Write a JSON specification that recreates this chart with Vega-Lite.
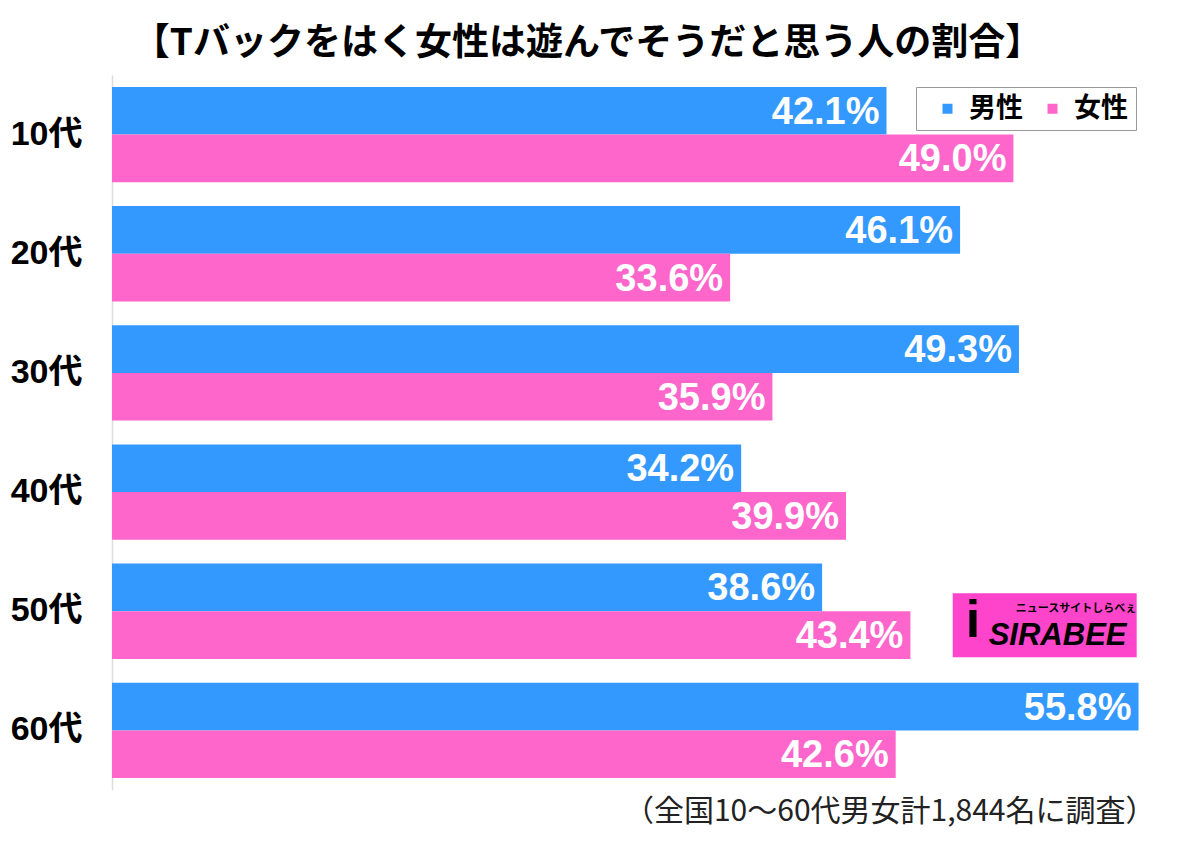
{
  "$schema": "https://vega.github.io/schema/vega-lite/v6.json",
  "width": 1067,
  "height": 715,
  "autosize": "none",
  "padding": {"left": 112, "top": 75, "right": 21, "bottom": 55},
  "background": "white",
  "title": {
    "text": "【Tバックをはく女性は遊んでそうだと思う人の割合】",
    "font": "Noto Sans CJK JP",
    "fontWeight": "bold",
    "fontSize": 37,
    "color": "black",
    "anchor": "middle",
    "dx": -58,
    "offset": 12
  },
  "config": {"view": {"stroke": null}},
  "data": {
    "values": [
      {"age": "10代", "sex": "男性", "value": 42.1},
      {"age": "10代", "sex": "女性", "value": 49.0},
      {"age": "20代", "sex": "男性", "value": 46.1},
      {"age": "20代", "sex": "女性", "value": 33.6},
      {"age": "30代", "sex": "男性", "value": 49.3},
      {"age": "30代", "sex": "女性", "value": 35.9},
      {"age": "40代", "sex": "男性", "value": 34.2},
      {"age": "40代", "sex": "女性", "value": 39.9},
      {"age": "50代", "sex": "男性", "value": 38.6},
      {"age": "50代", "sex": "女性", "value": 43.4},
      {"age": "60代", "sex": "男性", "value": 55.8},
      {"age": "60代", "sex": "女性", "value": 42.6}
    ]
  },
  "layer": [
    {
      "mark": {"type": "bar"},
      "encoding": {
        "y": {
          "field": "age",
          "type": "nominal",
          "sort": ["10代", "20代", "30代", "40代", "50代", "60代"],
          "scale": {"paddingInner": 0.2, "paddingOuter": 0.1},
          "axis": {
            "title": null,
            "ticks": false,
            "domainColor": "#dddddd",
            "domainWidth": 1.5,
            "labelFont": "Liberation Sans, Noto Sans CJK JP",
            "labelFontWeight": "bold",
            "labelFontSize": 34,
            "labelColor": "black",
            "labelPadding": 30
          }
        },
        "yOffset": {"field": "sex", "type": "nominal", "sort": ["男性", "女性"]},
        "x": {
          "field": "value",
          "type": "quantitative",
          "scale": {"domain": [0, 58], "nice": false, "zero": true},
          "axis": {
            "labels": false,
            "ticks": false,
            "grid": false,
            "domain": false,
            "title": "（全国10〜60代男女計1,844名に調査）",
            "titleFont": "Noto Sans CJK JP",
            "titleFontWeight": "normal",
            "titleFontSize": 30,
            "titleColor": "#222222",
            "titleAnchor": "end",
            "titleAlign": "right",
            "titleX": 1043,
            "titlePadding": 6
          }
        },
        "color": {
          "field": "sex",
          "type": "nominal",
          "scale": {"domain": ["男性", "女性"], "range": ["#3399FF", "#FF66CC"]},
          "legend": {
            "title": null,
            "orient": "none",
            "legendX": 804,
            "legendY": 12,
            "direction": "horizontal",
            "fillColor": "white",
            "strokeColor": "#999999",
            "padding": 8,
            "symbolType": "square",
            "symbolSize": 100,
            "symbolStrokeWidth": 0,
            "symbolOffset": 10,
            "labelOffset": 8,
            "columnPadding": 6,
            "labelFont": "Noto Sans CJK JP",
            "labelFontWeight": "bold",
            "labelFontSize": 27,
            "labelColor": "black"
          }
        }
      }
    },
    {
      "transform": [{"calculate": "format(datum.value, '.1f') + '%'", "as": "label"}],
      "mark": {
        "type": "text",
        "align": "right",
        "baseline": "middle",
        "dx": -7,
        "dy": 2,
        "font": "Liberation Sans",
        "fontWeight": "bold",
        "fontSize": 38,
        "color": "white"
      },
      "encoding": {
        "y": {"field": "age", "type": "nominal", "sort": ["10代", "20代", "30代", "40代", "50代", "60代"]},
        "yOffset": {"field": "sex", "type": "nominal", "sort": ["男性", "女性"]},
        "x": {"field": "value", "type": "quantitative"},
        "text": {"field": "label"}
      }
    },
    {
      "data": {"values": [{"name": "SIRABEE"}]},
      "mark": {"type": "rect", "color": "#FF44CC", "height": 64, "yOffset": 14},
      "encoding": {
        "x": {"datum": 45.7},
        "x2": {"datum": 55.7},
        "y": {"datum": "50代"}
      }
    },
    {
      "data": {"values": [{"name": "SIRABEE"}]},
      "mark": {"type": "text", "font": "Liberation Sans", "fontWeight": "bold", "fontStyle": "italic", "fontSize": 31, "color": "black", "dy": 25},
      "encoding": {
        "x": {"datum": 51.4},
        "y": {"datum": "50代"},
        "text": {"field": "name"}
      }
    },
    {
      "data": {"values": [{"name": "i"}]},
      "mark": {"type": "text", "font": "Liberation Sans", "fontWeight": "bold", "fontSize": 52, "color": "black", "dy": 10},
      "encoding": {
        "x": {"datum": 46.8},
        "y": {"datum": "50代"},
        "text": {"field": "name"}
      }
    },
    {
      "data": {"values": [{"name": "ニュースサイトしらべぇ"}]},
      "mark": {"type": "text", "font": "Noto Sans CJK JP", "fontWeight": "bold", "fontSize": 11, "color": "black", "dy": -2},
      "encoding": {
        "x": {"datum": 52.4},
        "y": {"datum": "50代"},
        "text": {"field": "name"}
      }
    }
  ]
}
